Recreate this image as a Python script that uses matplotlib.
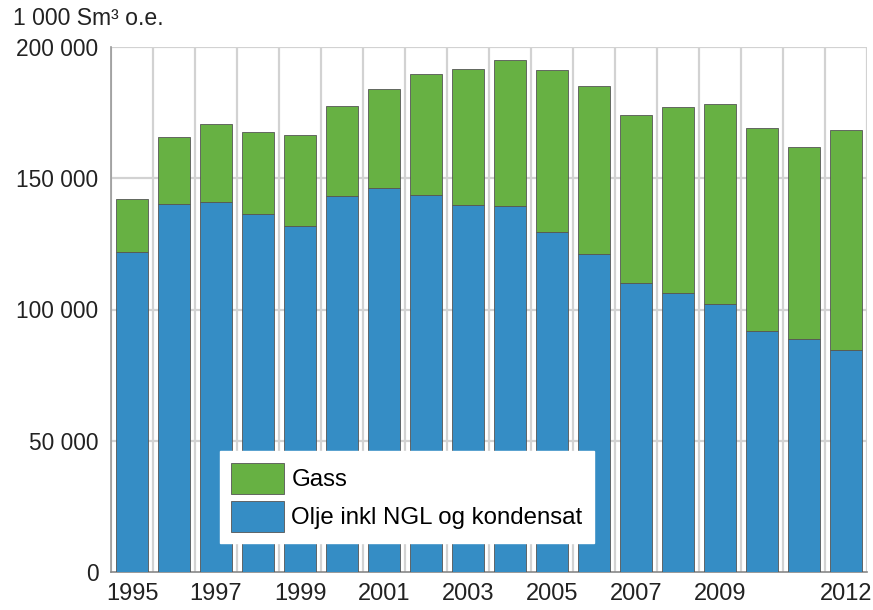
import numpy as np
import matplotlib
matplotlib.use("Agg")
from matplotlib import pyplot as plt
from matplotlib.patches import Patch

years = list(range(1995, 2013))
# 1 000 Sm3 o.e.
total = [142.0, 165.8, 170.7, 167.5, 166.6, 177.5, 184.0, 189.6, 191.5, 194.9,
         191.2, 185.1, 174.1, 177.3, 178.3, 169.3, 161.8, 168.4]
olje = [121.8, 140.3, 140.8, 136.3, 131.9, 143.1, 146.2, 143.7, 139.8, 139.4,
        129.5, 121.0, 110.2, 106.2, 102.0, 91.9, 88.6, 84.6]
xtick_years = [1995, 1997, 1999, 2001, 2003, 2005, 2007, 2009, 2012]
yticks = [0, 50000, 100000, 150000, 200000]

olje = np.array(olje) * 1000
gass = np.array(total) * 1000 - olje

GREEN = '#67b143'
BLUE = '#358dc5'
GRID = '#d2d2d2'

plt.rcParams['font.family'] = ['Liberation Sans', 'DejaVu Sans']

fig = plt.figure(figsize=(8.73, 6.10), dpi=100)
ax = fig.add_axes([111/873, 1-572/610, 756/873, 525/610])

x = np.arange(len(years))
ax.bar(x, olje, width=0.77, color=BLUE, edgecolor='#555555', linewidth=0.6, zorder=3)
ax.bar(x, gass, bottom=olje, width=0.77, color=GREEN, edgecolor='#555555', linewidth=0.6, zorder=3)

# grid: horizontal at y ticks, vertical between bars
for y in yticks[1:]:
    ax.axhline(y, color=GRID, lw=1.6, zorder=1)
for b in np.arange(-0.5, len(years), 1.0):
    ax.axvline(b, color=GRID, lw=1.6, zorder=1)

ax.set_xlim(-0.5, len(years) - 0.5)
ax.set_ylim(0, 200000)
ax.set_yticks(yticks)
ax.set_yticklabels(['{:,}'.format(v).replace(',', ' ') for v in yticks])
ax.set_xticks([years.index(y) for y in xtick_years])
ax.set_xticklabels([str(y) for y in xtick_years])
ax.tick_params(axis='both', length=0, colors='#222222')
ax.tick_params(axis='y', pad=9, labelsize=16.4)
ax.tick_params(axis='x', pad=8, labelsize=17)
for s in ['top', 'right']:
    ax.spines[s].set_visible(False)
ax.spines['left'].set_color('#999999')
ax.spines['bottom'].set_color('#888888')
ax.spines['left'].set_linewidth(1.2)
ax.spines['bottom'].set_linewidth(1.2)

handles = [Patch(facecolor=GREEN, edgecolor='#555555', linewidth=0.6, label='Gass'),
           Patch(facecolor=BLUE, edgecolor='#555555', linewidth=0.6, label='Olje inkl NGL og kondensat')]
leg = ax.legend(handles=handles, loc='lower left', bbox_to_anchor=(0.144, 0.055),
                borderaxespad=0, fontsize=17.3, frameon=True, fancybox=False,
                handlelength=2.2, handleheight=1.6, handletextpad=0.3,
                labelspacing=0.3, borderpad=0.48)
leg.get_frame().set_edgecolor('white')
leg.get_frame().set_alpha(1)
leg.set_zorder(5)

fig.text(13/873, 1-7/610, '1 000 Sm³ o.e.', fontsize=16.6, color='#222222', va='top', ha='left')

fig.savefig('out.png', dpi=100)
